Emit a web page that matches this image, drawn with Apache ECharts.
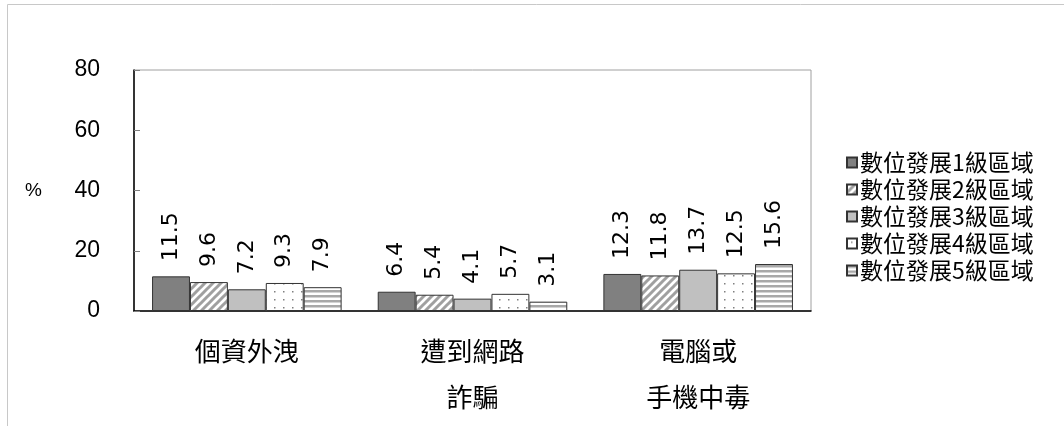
<!DOCTYPE html>
<html>
<head>
<meta charset="utf-8">
<script src="https://cdn.jsdelivr.net/npm/echarts@6/dist/echarts.min.js"></script>
<style>
  html, body { margin: 0; padding: 0; background: #fff; }
  #main { width: 1064px; height: 426px; }
</style>
</head>
<body>
<div id="main"></div>
<script>
let categories = ['個資外洩', '遭到網路\n詐騙', '電腦或\n手機中毒'];
let seriesNames = ['數位發展1級區域', '數位發展2級區域', '數位發展3級區域', '數位發展4級區域', '數位發展5級區域'];
let level1 = [11.5, 6.4, 12.3];
let level2 = [9.6, 5.4, 11.8];
let level3 = [7.2, 4.1, 13.7];
let level4 = [9.3, 5.7, 12.5];
let level5 = [7.9, 3.1, 15.6];
let yTicks = [0, 20, 40, 60, 80];

// little canvas tiles used as bar fills
function tile(w, h, draw) {
    let c = document.createElement('canvas');
    c.width = w;
    c.height = h;
    let ctx = c.getContext('2d');
    ctx.fillStyle = '#fff';
    ctx.fillRect(0, 0, w, h);
    draw(ctx);
    return { image: c, repeat: 'repeat' };
}

let diag = tile(8, 8, ctx => {
    ctx.strokeStyle = '#a0a0a0';
    ctx.lineWidth = 3;
    ctx.beginPath();
    ctx.moveTo(-4, 4); ctx.lineTo(4, -4);
    ctx.moveTo(0, 8); ctx.lineTo(8, 0);
    ctx.moveTo(4, 12); ctx.lineTo(12, 4);
    ctx.stroke();
});
let dots = tile(9, 8, ctx => {
    ctx.fillStyle = '#808080';
    ctx.fillRect(4, 3, 1.5, 1.5);
});
let hstripe = tile(5, 5, ctx => {
    ctx.fillStyle = '#a8a8a8';
    ctx.fillRect(0, 0, 5, 2.5);
});

let fills = ['#808080', diag, '#c0c0c0', dots, hstripe];
let values = [level1, level2, level3, level4, level5];

let chartDom = document.getElementById('main');
let myChart = echarts.init(chartDom);

let option = {
    animation: false,
    backgroundColor: '#fff',
    graphic: [{
        type: 'rect',
        shape: { x: 7.5, y: 4.5, width: 1070, height: 440 },
        style: { fill: 'none', stroke: '#c8c8c8', lineWidth: 1 },
        silent: true
    }],
    legend: {
        orient: 'vertical',
        left: 841,
        top: 146,
        itemGap: 4,
        itemWidth: 10,
        itemHeight: 10,
        icon: 'rect',
        data: seriesNames,
        textStyle: {
            fontFamily: 'Noto Sans CJK TC',
            fontSize: 23,
            color: '#000',
            padding: [0, 0, 0, -2]
        }
    },
    grid: {
        left: 134,
        right: 253,
        top: 70,
        bottom: 115,
        show: true,
        borderColor: '#a0a0a0',
        borderWidth: 1,
        containLabel: false
    },
    xAxis: {
        type: 'category',
        data: categories,
        axisLine: { lineStyle: { color: '#000', width: 1.5 } },
        axisTick: { inside: true, length: 8, lineStyle: { color: '#a0a0a0' } },
        axisLabel: {
            margin: 17,
            fontFamily: 'Noto Sans CJK TC',
            fontSize: 26,
            lineHeight: 46,
            color: '#000'
        }
    },
    yAxis: {
        type: 'value',
        min: 0,
        max: 80,
        interval: 20,
        name: '%',
        nameLocation: 'middle',
        nameRotate: 0,
        nameGap: 92,
        nameTextStyle: { fontFamily: 'Liberation Sans', fontSize: 19, color: '#000' },
        axisLine: { show: true, lineStyle: { color: '#000', width: 1.5 } },
        axisTick: { show: true, inside: true, length: 6, lineStyle: { color: '#808080' } },
        splitLine: { show: false },
        axisLabel: {
            margin: 34,
            fontFamily: 'Liberation Sans',
            fontSize: 23,
            color: '#000',
            formatter: v => yTicks.includes(v) ? String(v) : ''
        }
    },
    series: seriesNames.map((name, i) => ({
        name: name,
        type: 'bar',
        data: values[i],
        barGap: 0,
        barCategoryGap: '16%',
        itemStyle: {
            color: fills[i],
            borderColor: '#333',
            borderWidth: 1
        },
        label: {
            show: true,
            position: 'top',
            rotate: 90,
            align: 'left',
            verticalAlign: 'middle',
            distance: 15,
            fontFamily: 'DejaVu Sans',
            fontSize: 22,
            color: '#000'
        }
    }))
};

option && myChart.setOption(option);
</script>
</body>
</html>
